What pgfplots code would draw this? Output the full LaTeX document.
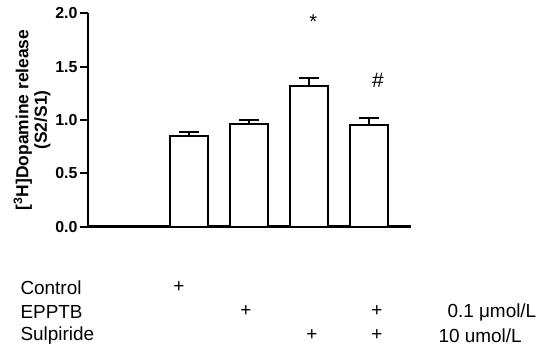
\documentclass[border=0pt]{standalone}
\usepackage{fontspec}
\setmainfont{Liberation Sans}
\usepackage{pgfplots}
\pgfplotsset{compat=1.18}

\pgfplotstableread{
x   y      err
1   0.853  0.034
2   0.963  0.037
3   1.319  0.072
4   0.950  0.066
}\release

\begin{document}
\begin{tikzpicture}[x=1bp,y=1bp]
% page frame, 550 x 356
\path (0,0) rectangle (550,356);
\begin{axis}[
    at={(88bp,129.3bp)}, anchor=south west,
    scale only axis,
    width=323bp, height=213.4bp,
    xmin=-0.683, xmax=4.7,
    ymin=0, ymax=2,
    axis lines=left,
    axis line style={-, line width=2.8bp},
    xtick=\empty,
    ytick={0,0.5,1,1.5,2},
    tick align=outside,
    major tick length=8bp,
    tick style={line width=2.2bp, black},
    yticklabel style={font=\bfseries\fontsize{16}{18}\selectfont, xshift=1bp},
    /pgf/number format/assume math mode=true,
    /pgf/number format/.cd, fixed, fixed zerofill, precision=1,
    /pgfplots/.cd,
    ylabel={[\textsuperscript{3}H]Dopamine release\\(S2/S1)},
    ylabel style={align=center, font=\bfseries\fontsize{17.5}{18.5}\selectfont, yshift=-2bp},
    clip=false,
]
\addplot[ybar, bar width=38bp, fill=white, draw=black, line width=2.2bp,
    error bars/.cd, y dir=plus, y explicit,
    error bar style={line width=2.2bp, black},
    error mark options={rotate=90, mark size=10bp, line width=2.2bp, black}]
    table[x=x, y=y, y error=err] {\release};
\node[font=\fontsize{20}{22}\selectfont] at (axis cs:3.07,1.92) {*};
\node[font=\fontsize{21}{23}\selectfont] at (axis cs:4.15,1.375) {\#};
\end{axis}
% treatment table
\begin{scope}[every node/.style={font=\fontsize{19}{21}\selectfont}]
\node[anchor=west] at (17,68) {Control};
\node[anchor=west] at (17,44) {EPPTB};
\node[anchor=west] at (17,20) {Sulpiride};
\node at (179,69) {+};
\node at (246,45) {+};
\node at (377,45) {+};
\node at (312,21) {+};
\node at (377,21) {+};
\node[anchor=west] at (444,44) {0.1 μmol/L};
\node[anchor=west] at (435,20) {10 umol/L};
\end{scope}
\end{tikzpicture}
\end{document}
